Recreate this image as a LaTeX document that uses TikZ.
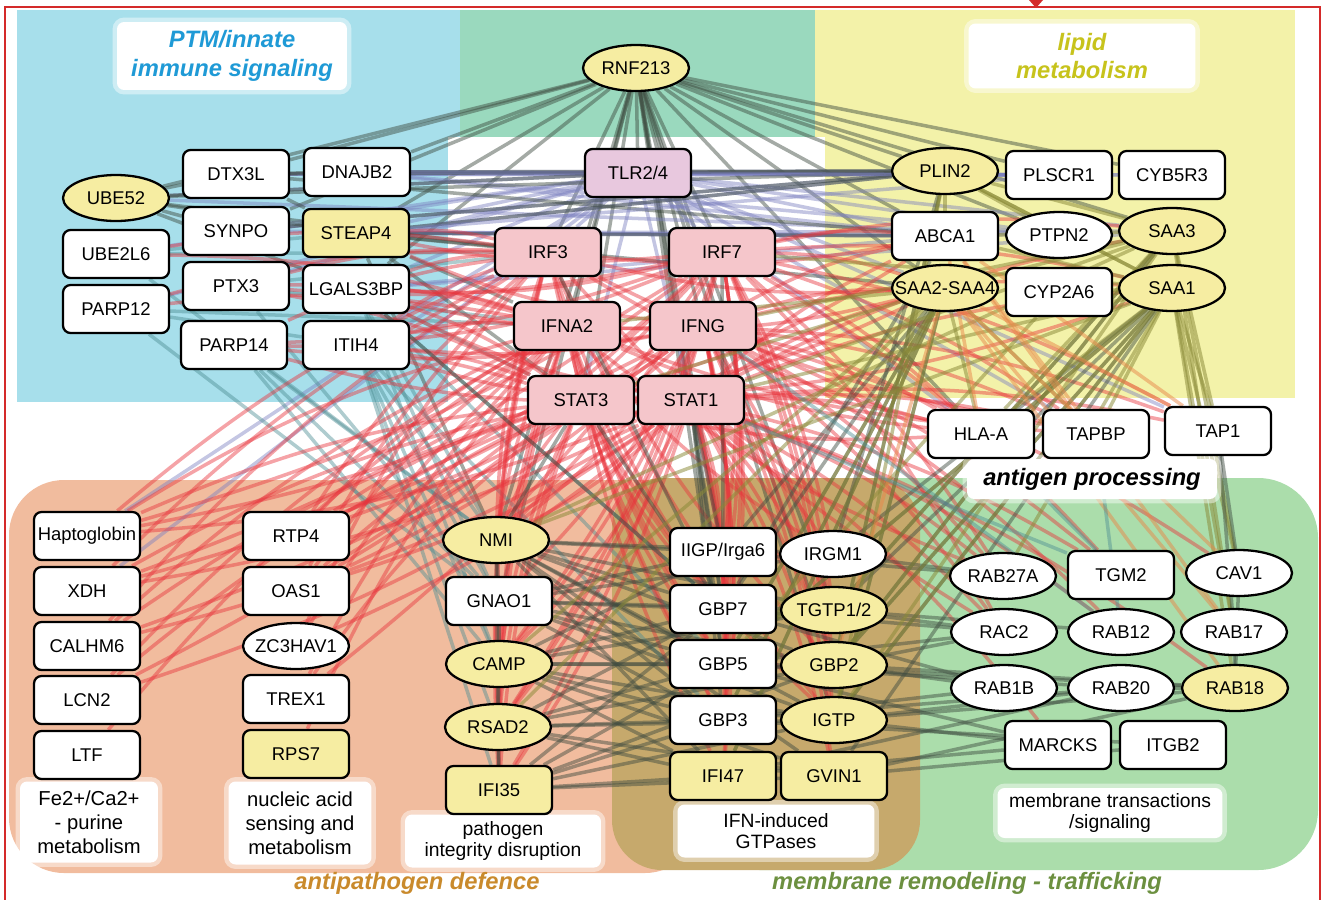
\documentclass[tikz,border=0pt]{standalone}
\usepackage{fontspec}
\setmainfont{Liberation Sans}
\usetikzlibrary{shapes.geometric}
\pgfdeclarelayer{regions}
\pgfdeclarelayer{edges}
\pgfdeclarelayer{labels}
\pgfsetlayers{regions,edges,labels,main}
\definecolor{regBlue}{HTML}{A7DFEB}
\definecolor{regTeal}{HTML}{9AD9BE}
\definecolor{regYel}{HTML}{F3F2A9}
\definecolor{regOra}{HTML}{F1BC9E}
\definecolor{regOli}{HTML}{C6A96C}
\definecolor{regGrn}{HTML}{ABDDAB}
\definecolor{nodeY}{HTML}{F6EDA2}
\definecolor{nodeP}{HTML}{F5C6CB}
\definecolor{nodeL}{HTML}{E8C8DE}
\definecolor{edgeR}{HTML}{E8343C}
\definecolor{edgeG}{HTML}{3E4B40}
\definecolor{edgeB}{HTML}{7C80C0}
\definecolor{edgeO}{HTML}{8A8A38}
\definecolor{edgeT}{HTML}{4E8E94}
\definecolor{edgeOr}{HTML}{E8884A}
\definecolor{ptmC}{HTML}{1F9AD6}
\definecolor{lipC}{HTML}{C7C31C}
\definecolor{antC}{HTML}{C98A2C}
\definecolor{memC}{HTML}{6C9040}
\definecolor{frameR}{HTML}{D42A2A}
\newcommand\gn[5]{\node[#4] (#1) at (#2,#3) {\makebox[0pt]{#5}};}
\newcommand\edgefan[3]{\foreach \tgt in {#3} {\draw[#1] (#2) -- (\tgt);}}
\newcommand\edgefanb[4]{\foreach \tgt in {#4} {\draw[#1] (#2) to[#3] (\tgt);}}
\begin{document}
\begin{tikzpicture}[x=0.02cm,y=-0.02cm,
  gbox/.style={rectangle, rounded corners=0.15cm, draw=black, line width=1.3pt,
    minimum width=2.12cm, minimum height=0.96cm, fill=white, inner sep=0pt,
    font=\fontsize{10.5}{12}\selectfont},
  gell/.style={ellipse, draw=black, line width=1.3pt,
    minimum width=2.12cm, minimum height=0.92cm, fill=white, inner sep=0pt,
    font=\fontsize{10.5}{12}\selectfont},
  yel/.style={fill=nodeY}, pnk/.style={fill=nodeP}, lil/.style={fill=nodeL},
  eR/.style={draw=edgeR, line width=2pt, opacity=.45},
  eG/.style={draw=edgeG, line width=2pt, opacity=.47},
  eB/.style={draw=edgeB, line width=2pt, opacity=.45},
  eO/.style={draw=edgeO, line width=2pt, opacity=.52},
  eT/.style={draw=edgeT, line width=2pt, opacity=.45},
  eOr/.style={draw=edgeOr, line width=2pt, opacity=.5},
  ttl/.style={font=\bfseries\itshape\fontsize{13.5}{16.4}\selectfont, align=center},
  sub/.style={font=\fontsize{11.5}{13.6}\selectfont, align=center},
  subs/.style={font=\fontsize{11}{11.6}\selectfont, align=center},
  glowbox/.style={fill=white, draw=white, line width=5pt, draw opacity=.45, rounded corners=4pt, inner sep=0pt}
]
\useasboundingbox (0,0) rectangle (1324,899);

% ---------- nodes ----------
\gn{ube52}{116}{198}{gell,yel}{UBE52}
\gn{dtx3l}{236}{174}{gbox}{DTX3L}
\gn{dnajb2}{357}{172}{gbox}{DNAJB2}
\gn{synpo}{236}{231}{gbox}{SYNPO}
\gn{steap4}{356}{233}{gbox,yel}{STEAP4}
\gn{ube2l6}{116}{254}{gbox}{UBE2L6}
\gn{ptx3}{236}{286}{gbox}{PTX3}
\gn{lgals}{356}{289}{gbox}{LGALS3BP}
\gn{parp12}{116}{309}{gbox}{PARP12}
\gn{parp14}{234}{345}{gbox}{PARP14}
\gn{itih4}{356}{345}{gbox}{ITIH4}

\gn{rnf}{636}{68}{gell,yel}{RNF213}
\gn{tlr}{638}{173}{gbox,lil}{TLR2/4}
\gn{irf3}{548}{252}{gbox,pnk}{IRF3}
\gn{irf7}{722}{252}{gbox,pnk}{IRF7}
\gn{ifna2}{567}{326}{gbox,pnk}{IFNA2}
\gn{ifng}{703}{326}{gbox,pnk}{IFNG}
\gn{stat3}{581}{400}{gbox,pnk}{STAT3}
\gn{stat1}{691}{400}{gbox,pnk}{STAT1}

\gn{plin2}{945}{171}{gell,yel}{PLIN2}
\gn{plscr1}{1059}{175}{gbox}{PLSCR1}
\gn{cyb5r3}{1172}{175}{gbox}{CYB5R3}
\gn{abca1}{945}{236}{gbox}{ABCA1}
\gn{ptpn2}{1059}{235}{gell}{PTPN2}
\gn{saa3}{1172}{231}{gell,yel}{SAA3}
\gn{saa24}{945}{288}{gell,yel}{SAA2-SAA4}
\gn{cyp2a6}{1059}{292}{gbox}{CYP2A6}
\gn{saa1}{1172}{288}{gell,yel}{SAA1}

\gn{hla}{981}{434}{gbox}{HLA-A}
\gn{tapbp}{1096}{434}{gbox}{TAPBP}
\gn{tap1}{1218}{431}{gbox}{TAP1}

\gn{hapto}{87}{536}{gbox}{Haptoglobin}
\gn{xdh}{87}{591}{gbox}{XDH}
\gn{calhm6}{87}{646}{gbox}{CALHM6}
\gn{lcn2}{87}{700}{gbox}{LCN2}
\gn{ltf}{87}{755}{gbox}{LTF}
\gn{rtp4}{296}{536}{gbox}{RTP4}
\gn{oas1}{296}{591}{gbox}{OAS1}
\gn{zc3hav1}{296}{646}{gell}{ZC3HAV1}
\gn{trex1}{296}{699}{gbox}{TREX1}
\gn{rps7}{296}{754}{gbox,yel}{RPS7}
\gn{nmi}{496}{540}{gell,yel}{NMI}
\gn{gnao1}{499}{601}{gbox}{GNAO1}
\gn{camp}{499}{664}{gell,yel}{CAMP}
\gn{rsad2}{498}{727}{gell,yel}{RSAD2}
\gn{ifi35}{499}{790}{gbox,yel}{IFI35}

\gn{iigp}{723}{552}{gbox}{IIGP/Irga6}
\gn{irgm1}{833}{554}{gell}{IRGM1}
\gn{gbp7}{723}{609}{gbox}{GBP7}
\gn{tgtp}{834}{610}{gell,yel}{TGTP1/2}
\gn{gbp5}{723}{664}{gbox}{GBP5}
\gn{gbp2}{834}{665}{gell,yel}{GBP2}
\gn{gbp3}{723}{720}{gbox}{GBP3}
\gn{igtp}{834}{720}{gell,yel}{IGTP}
\gn{ifi47}{723}{776}{gbox,yel}{IFI47}
\gn{gvin1}{834}{776}{gbox,yel}{GVIN1}

\gn{rab27a}{1003}{576}{gell}{RAB27A}
\gn{tgm2}{1121}{575}{gbox}{TGM2}
\gn{cav1}{1239}{573}{gell}{CAV1}
\gn{rac2}{1004}{632}{gell}{RAC2}
\gn{rab12}{1121}{632}{gell}{RAB12}
\gn{rab17}{1234}{632}{gell}{RAB17}
\gn{rab1b}{1004}{688}{gell}{RAB1B}
\gn{rab20}{1121}{688}{gell}{RAB20}
\gn{rab18}{1235}{688}{gell,yel}{RAB18}
\gn{marcks}{1058}{745}{gbox}{MARCKS}
\gn{itgb2}{1173}{745}{gbox}{ITGB2}

% ---------- regions ----------
\begin{pgfonlayer}{regions}
\fill[regBlue] (17,10) rectangle (460,402);
\fill[regTeal] (460,10) rectangle (815,137);
\fill[regYel] (815,10) rectangle (1295,398);
\fill[white] (448,137) rectangle (825,402);
\fill[regOra, rounded corners=1.1cm] (9,480) rectangle (700,873);
\fill[regGrn, rounded corners=1.2cm] (700,478) rectangle (1318,870);
\fill[regOli, rounded corners=1cm] (612,478) rectangle (920,870);
\draw[frameR, line width=1.2pt] (5,910) -- (5,7) -- (1320,7) -- (1320,910);
\fill[frameR] (1029,0) -- (1043,0) -- (1036,8) -- cycle;
\end{pgfonlayer}

% ---------- edges ----------
\begin{pgfonlayer}{edges}
% RNF213
\edgefan{eG}{rnf}{ube52,dtx3l,dnajb2,steap4,synpo,lgals,tlr,irf3,irf7,ifna2,ifng,stat3,stat1,plin2,plscr1,abca1,ptpn2,saa24,cyb5r3,saa3,hla,nmi,gnao1,iigp,gbp7,gbp5,gbp2,igtp,tgtp}
% TLR2/4
\edgefan{eB}{tlr}{ube52,dtx3l,dnajb2,synpo,steap4,ube2l6,ptx3,lgals,parp12,itih4,plin2,plscr1,cyb5r3,abca1,ptpn2,saa3,saa24,hapto,xdh,irf3,irf7,stat3,stat1,hla,tapbp,tap1}
% cross links PTM <-> lipid
\edgefan{eB}{dnajb2}{plin2,plscr1,abca1,ptpn2}
\edgefan{eB}{steap4}{plin2,abca1,ptpn2,saa3}
\edgefan{eB}{dtx3l}{plscr1,cyb5r3}
\edgefan{eB}{synpo}{abca1,plin2}
\edgefan{eB}{ube52}{ptpn2}
\edgefan{eB}{lgals}{abca1,saa3}
% PTM internal / left
\edgefan{eG}{ube52}{dtx3l,steap4,synpo,lgals,tlr,irf3,plin2}
\edgefan{eG}{dtx3l}{dnajb2,steap4,plin2,abca1}
\edgefan{eG}{plin2}{dnajb2,steap4,synpo}
\edgefan{eB}{plscr1}{dnajb2,steap4}
\edgefan{eG}{steap4}{irf3,ifna2,stat3,abca1,saa24,nmi}
\edgefan{eT}{lgals}{nmi,gnao1,camp,gbp7,gbp5,stat3}
\edgefan{eT}{itih4}{nmi,gnao1,camp,rsad2,ifi35,gbp3}
\edgefan{eT}{parp14}{nmi,gnao1,camp}
\edgefan{eT}{ptx3}{irf3,ifna2,gnao1}
\edgefan{eT}{ube2l6}{steap4,irf3,nmi}
\edgefan{eT}{parp12}{itih4,ifna2,gnao1}
% red (interferon core)
\edgefanb{eR}{irf3}{bend right=8}{steap4,lgals,ptx3,ube2l6,parp12,parp14,itih4,hapto,xdh,calhm6,rtp4,oas1,zc3hav1,nmi,camp,rsad2,ifi35,gbp7,gbp5,gbp3,igtp,gbp2,hla,tapbp,saa24,abca1,rac2}
\edgefanb{eR}{irf7}{bend left=8}{steap4,lgals,ptx3,parp14,itih4,hapto,xdh,lcn2,rtp4,oas1,trex1,nmi,camp,rsad2,ifi35,iigp,irgm1,gbp7,tgtp,gbp5,gbp2,gbp3,igtp,hla,tapbp,tap1,saa1,saa3,saa24,abca1,rab27a,tgm2,rac2}
\edgefanb{eR}{ifna2}{bend right=8}{lgals,ptx3,parp12,ube2l6,itih4,hapto,calhm6,lcn2,ltf,rtp4,oas1,zc3hav1,trex1,rps7,nmi,camp,rsad2,ifi35,gbp7,gbp5,gbp3,ifi47,irgm1,hla,tapbp,saa24,rab27a}
\edgefanb{eR}{ifng}{bend left=8}{steap4,lgals,itih4,parp14,hapto,xdh,calhm6,rtp4,oas1,nmi,gnao1,camp,rsad2,iigp,gbp7,tgtp,gbp5,gbp2,gbp3,igtp,ifi47,gvin1,hla,tapbp,tap1,saa1,saa24,abca1,rab27a,tgm2,cav1,rac2,rab12}
\edgefanb{eR}{stat3}{bend right=8}{lgals,parp14,itih4,ptx3,hapto,xdh,calhm6,lcn2,rtp4,oas1,trex1,nmi,camp,rsad2,ifi35,gbp7,gbp5,igtp,hla,saa24,saa1,abca1}
\edgefanb{eR}{stat1}{bend left=8}{lgals,itih4,parp14,hapto,xdh,calhm6,lcn2,oas1,zc3hav1,nmi,camp,rsad2,ifi35,iigp,irgm1,gbp7,tgtp,gbp5,gbp2,gbp3,igtp,ifi47,gvin1,hla,tapbp,tap1,saa1,saa3,saa24,abca1,rab27a,tgm2,rac2,rab12,rab18,marcks}
% GTPases (dark)
\edgefan{eG}{gbp7}{nmi,gnao1,camp,rsad2,ifi35,stat1,stat3,irf3,saa24,abca1,rac2,rab1b,lgals}
\edgefan{eG}{gbp5}{nmi,gnao1,camp,rsad2,ifi35,stat1,saa24,saa1,rab20,rac2,rab18,marcks}
\edgefan{eG}{gbp3}{nmi,gnao1,camp,rsad2,ifi35,stat1,saa24,rab1b,rab20,itgb2}
\edgefan{eG}{gbp2}{nmi,gnao1,camp,rsad2,ifi35,saa1,saa3,plin2,rab18,rab1b,rac2}
\edgefan{eG}{igtp}{nmi,gnao1,camp,rsad2,ifi35,saa1,saa24,rab20,marcks,rab18}
\edgefan{eG}{tgtp}{nmi,gnao1,camp,saa3,saa1,rac2,rab12}
\edgefan{eG}{iigp}{nmi,gnao1,camp,stat1,irf7,saa24,rab27a}
\edgefan{eG}{irgm1}{nmi,gnao1,saa1,plin2,rab27a}
\edgefan{eG}{ifi47}{nmi,camp,rsad2,ifi35,saa24,rab20,marcks}
\edgefan{eG}{gvin1}{nmi,camp,rsad2,ifi35,saa1,rab18,itgb2}
\edgefan{eG}{nmi}{gnao1,ifi35,stat3}
\edgefan{eG}{gnao1}{camp}
\edgefan{eG}{camp}{rsad2}
\edgefan{eG}{rsad2}{ifi35}
% lipid (olive / orange)
\edgefan{eO}{saa1}{tap1,cav1,rab17,rab18,hla,tapbp,gbp2,igtp,gbp5,nmi,irf7,stat1,rab27a,plin2,abca1}
\edgefan{eO}{saa3}{tap1,cav1,rab17,gbp2,igtp,tgtp,hla,stat1,ifng,nmi,saa24,abca1}
\edgefan{eO}{saa24}{hla,tapbp,gbp5,gbp3,igtp,ifi47,camp,rsad2,stat3,ifna2}
\edgefan{eO}{plin2}{saa3,saa1,ptpn2,abca1,igtp,gbp2}
\edgefan{eO}{cyp2a6}{saa1,gbp5}
\edgefan{eOr}{saa24}{tap1,cav1,rab18,rab17,gbp2}
\edgefan{eOr}{abca1}{hla,tapbp,tap1,rab17}
% membrane
\edgefan{eG}{tap1}{cav1,rab17}
\edgefan{eG}{rab18}{rab17,rab20,cav1}
\edgefan{eT}{tgm2}{hla,stat1}
\edgefan{eT}{rab12}{tapbp,ifng}
\end{pgfonlayer}

% ---------- labels ----------
\begin{pgfonlayer}{labels}
\node[glowbox, ttl, text=ptmC, minimum width=4.6cm, minimum height=1.36cm] (tptm) at (232,56) {PTM/innate\\immune signaling};
\node[glowbox, ttl, text=lipC, minimum width=4.54cm, minimum height=1.3cm] (tlip) at (1082,56) {lipid\\metabolism};
\node[glowbox, ttl, text=black, minimum width=5.0cm, minimum height=0.8cm] (tant) at (1092,479) {antigen processing};
\node[glowbox, sub, minimum width=2.76cm, minimum height=1.62cm] (tfe) at (89,822) {Fe2+/Ca2+\\- purine\\metabolism};
\node[glowbox, sub, minimum width=2.86cm, minimum height=1.66cm] (tnuc) at (300,823) {nucleic acid\\sensing and\\metabolism};
\node[glowbox, subs, minimum width=3.92cm, minimum height=1.06cm] (tpat) at (503,841) {pathogen\\integrity disruption};
\node[glowbox, subs, minimum width=3.94cm, minimum height=1.06cm] (tifn) at (776,831) {IFN-induced\\GTPases};
\node[glowbox, subs, minimum width=4.5cm, minimum height=1.0cm] (tmem) at (1110,813) {membrane transactions\\/signaling};
\node[ttl, text=antC] (tapd) at (417,883) {antipathogen defence};
\node[ttl, text=memC] (tmrt) at (967,883) {membrane remodeling - trafficking};
\end{pgfonlayer}
\end{tikzpicture}
\end{document}
